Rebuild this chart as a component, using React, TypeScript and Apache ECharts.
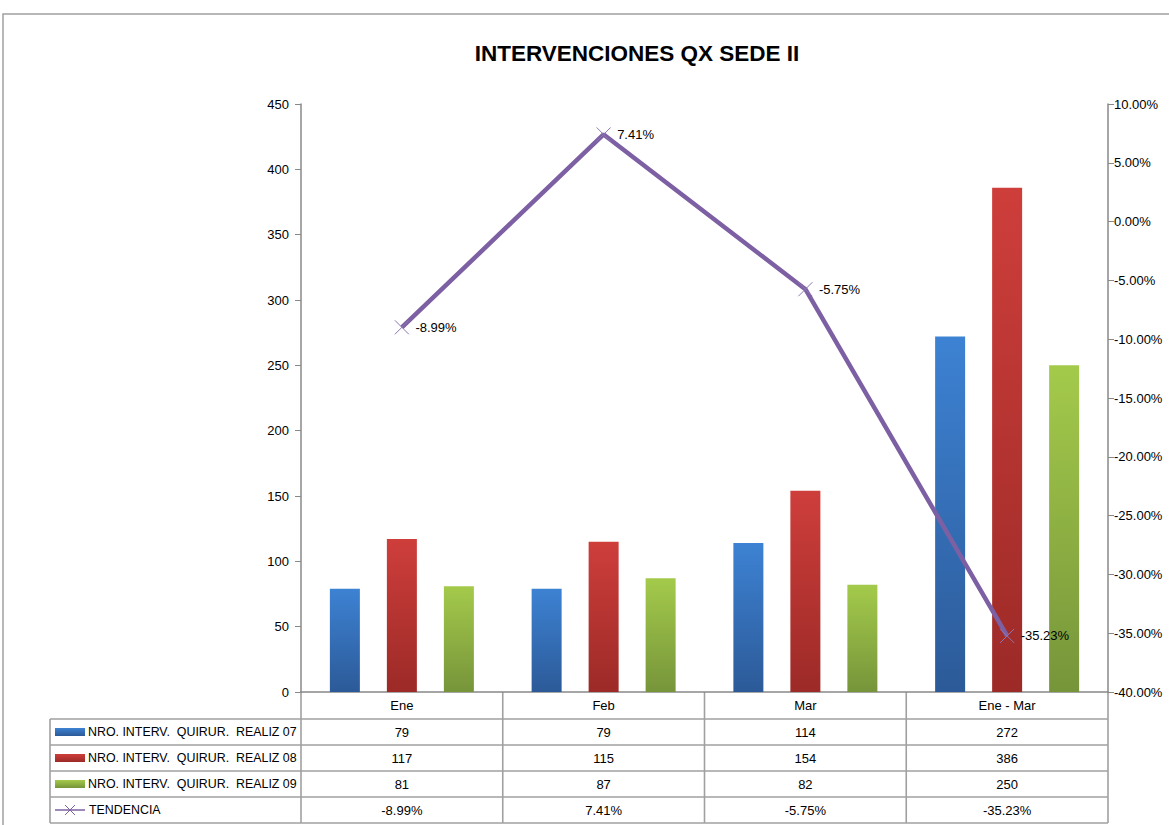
import React, { useEffect, useRef } from "react";
import * as echarts from "echarts";

const TITLE = "INTERVENCIONES QX SEDE II";
const categories = ["Ene", "Feb", "Mar", "Ene - Mar"];
const seriesNames = [
  "NRO. INTERV.  QUIRUR.  REALIZ 07",
  "NRO. INTERV.  QUIRUR.  REALIZ 08",
  "NRO. INTERV.  QUIRUR.  REALIZ 09",
];
const trendName = "TENDENCIA";
const realiz07 = [79, 79, 114, 272];
const realiz08 = [117, 115, 154, 386];
const realiz09 = [81, 87, 82, 250];
const tendencia = [-8.99, 7.41, -5.75, -35.23];
const leftTicks = { min: 0, max: 450, interval: 50 };
const rightTicks = { min: -40, max: 10, interval: 5 };

const FONT = "'Liberation Sans', Arial, sans-serif";

const grad = (top: string, bottom: string) =>
  new echarts.graphic.LinearGradient(0, 0, 0, 1, [
    { offset: 0, color: top },
    { offset: 1, color: bottom },
  ]);

const colors = [
  ["#3d82d3", "#2c5a98"],
  ["#ce3e3b", "#9c2a27"],
  ["#a4ca4b", "#76953a"],
];
const PURPLE = "#7d60a3";

export default function App() {
  const ref = useRef<HTMLDivElement>(null);
  useEffect(() => {
    if (!ref.current) return;
    const chart = echarts.init(ref.current, undefined, { renderer: "svg" });
    const W = 1169;
    const gridLeft = 301;
    const gridRight = 1108;
    const gridTop = 104;
    const gridBottom = 692;
    const colW = (gridRight - gridLeft) / categories.length;
    const rowH = 26;
    const legendLeft = 50;
    const lineColor = "#a0a0a0";

    const graphics: any[] = [];
    graphics.push({
      type: "rect",
      shape: { x: 3, y: 14, width: 1200, height: 900 },
      style: { fill: "none", stroke: "#a0a0a0", lineWidth: 1.5 },
      silent: true,
    });
    const rowYs = [gridBottom + 27];
    for (let i = 1; i <= 4; i++) rowYs.push(rowYs[0] + i * rowH);
    const tableBottom = rowYs[4];
    rowYs.forEach((y) => {
      graphics.push({
        type: "line",
        shape: { x1: legendLeft, y1: y, x2: gridRight, y2: y },
        style: { stroke: lineColor, lineWidth: 1.6 },
        silent: true,
      });
    });
    for (let i = 0; i <= categories.length; i++) {
      const x = gridLeft + i * colW;
      graphics.push({
        type: "line",
        shape: { x1: x, y1: gridBottom, x2: x, y2: tableBottom },
        style: { stroke: lineColor, lineWidth: 1.6 },
        silent: true,
      });
    }
    graphics.push({
      type: "line",
      shape: { x1: legendLeft, y1: rowYs[0], x2: legendLeft, y2: tableBottom },
      style: { stroke: lineColor, lineWidth: 1.6 },
      silent: true,
    });
    const rowsData = [realiz07, realiz08, realiz09];
    const rowNames = [...seriesNames, trendName];
    rowNames.forEach((name, r) => {
      const cy = rowYs[r] + rowH / 2;
      if (r < 3) {
        graphics.push({
          type: "rect",
          shape: { x: legendLeft + 5, y: cy - 4, width: 30, height: 8 },
          style: { fill: grad(colors[r][0], colors[r][1]) },
          silent: true,
        });
      } else {
        graphics.push({
          type: "line",
          shape: { x1: legendLeft + 5, y1: cy, x2: legendLeft + 35, y2: cy },
          style: { stroke: PURPLE, lineWidth: 1.5 },
          silent: true,
        });
        graphics.push({
          type: "line",
          shape: { x1: legendLeft + 15, y1: cy - 5, x2: legendLeft + 25, y2: cy + 5 },
          style: { stroke: PURPLE, lineWidth: 1 },
          silent: true,
        });
        graphics.push({
          type: "line",
          shape: { x1: legendLeft + 15, y1: cy + 5, x2: legendLeft + 25, y2: cy - 5 },
          style: { stroke: PURPLE, lineWidth: 1 },
          silent: true,
        });
      }
      graphics.push({
        type: "text",
        x: r < 3 ? legendLeft + 38 : legendLeft + 39,
        y: cy,
        style: {
          text: name,
          fill: "#000",
          font: `12.4px ${FONT}`,
          textVerticalAlign: "middle",
          verticalAlign: "middle",
        },
        silent: true,
      });
      categories.forEach((_, c) => {
        const v = r < 3 ? String(rowsData[r][c]) : `${tendencia[c].toFixed(2)}%`;
        graphics.push({
          type: "text",
          x: gridLeft + (c + 0.5) * colW,
          y: cy,
          style: {
            text: v,
            fill: "#000",
            font: `13px ${FONT}`,
            align: "center",
            verticalAlign: "middle",
            textAlign: "center",
            textVerticalAlign: "middle",
          },
          silent: true,
        });
      });
    });

    const barSeries = [realiz07, realiz08, realiz09].map((d, i) => ({
      name: seriesNames[i],
      type: "bar",
      data: d,
      barWidth: 30,
      barGap: "90%",
      itemStyle: { color: grad(colors[i][0], colors[i][1]) },
    }));

    chart.setOption({
      animation: false,
      backgroundColor: "#fff",
      title: {
        text: TITLE,
        left: 632,
        textAlign: "center",
        top: 37,
        textStyle: {
          fontFamily: "'Liberation Sans Narrow', 'Liberation Sans', Arial, sans-serif",
          fontWeight: "bold",
          fontSize: 22.5,
          color: "#000",
        },
      },
      grid: {
        left: gridLeft,
        right: W - gridRight,
        top: gridTop,
        bottom: 825 - gridBottom,
        containLabel: false,
      },
      xAxis: {
        type: "category",
        data: categories,
        axisLine: { lineStyle: { color: "#888", width: 1.5 } },
        axisTick: { show: false },
        axisLabel: { color: "#000", fontSize: 13, fontFamily: FONT, margin: 7 },
      },
      yAxis: [
        {
          type: "value",
          min: leftTicks.min,
          max: leftTicks.max,
          interval: leftTicks.interval,
          splitLine: { show: false },
          axisLine: { show: true, lineStyle: { color: "#888", width: 1.5 } },
          axisTick: { show: true, length: 6, lineStyle: { color: "#888" } },
          axisLabel: { color: "#000", fontSize: 13, fontFamily: FONT, margin: 12 },
        },
        {
          type: "value",
          position: "right",
          min: rightTicks.min,
          max: rightTicks.max,
          interval: rightTicks.interval,
          splitLine: { show: false },
          axisLine: { show: true, lineStyle: { color: "#888", width: 1.5 } },
          axisTick: { show: true, length: 6, lineStyle: { color: "#888" } },
          axisLabel: {
            color: "#000",
            fontSize: 13,
            fontFamily: FONT,
            margin: 6,
            formatter: (v: number) => `${v.toFixed(2)}%`,
          },
        },
      ],
      series: [
        ...barSeries,
        {
          name: trendName,
          type: "line",
          yAxisIndex: 1,
          data: tendencia,
          z: 5,
          lineStyle: { color: PURPLE, width: 4.5 },
          symbol: "path://M0,0L10,10M10,0L0,10",
          symbolSize: 14,
          itemStyle: { color: PURPLE, borderColor: "#8e76b3", borderWidth: 1 },
          label: {
            show: true,
            position: "right",
            distance: 6,
            color: "#000",
            fontSize: 13,
            fontFamily: FONT,
            formatter: (p: any) => `${Number(p.value).toFixed(2)}%`,
          },
        },
      ],
      graphic: graphics,
    });
    return () => chart.dispose();
  }, []);
  return (
    <div
      ref={ref}
      style={{ position: "fixed", left: 0, top: 0, width: 1169, height: 825 }}
    />
  );
}
